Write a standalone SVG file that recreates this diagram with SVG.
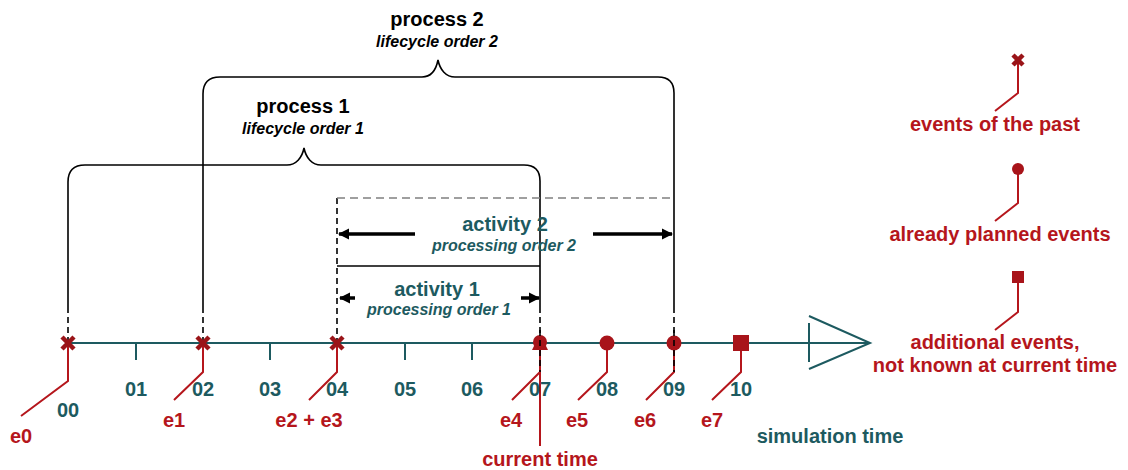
<svg xmlns="http://www.w3.org/2000/svg" width="1128" height="470" viewBox="0 0 1128 470">
  <defs>
    <style>
      .bk { fill: none; stroke: #000; stroke-width: 1.6; }
      .dash { fill: none; stroke: #000; stroke-width: 1.6; stroke-dasharray: 6 4; }
      .gray { fill: none; stroke: #808080; stroke-width: 1.6; stroke-dasharray: 8 5; }
      .axis { fill: none; stroke: #1d5a60; stroke-width: 2; }
      .call { fill: none; stroke: #b5161c; stroke-width: 2; }
      .thick { fill: none; stroke: #000; stroke-width: 3.5; }
      .xm { stroke: #9a1418; stroke-width: 4.5; stroke-linecap: butt; }
      .ev { fill: #a8141a; }
      text { font-family: "Liberation Sans", Arial, sans-serif; font-weight: bold; text-anchor: middle; }
      .title { font-size: 20px; fill: #000; }
      .sub { font-size: 16px; font-style: italic; fill: #000; }
      .act { font-size: 20px; fill: #1d5a60; }
      .actsub { font-size: 16px; font-style: italic; fill: #1d5a60; }
      .tick { font-size: 20px; fill: #1d5a60; }
      .lbl { font-size: 20px; fill: #b5161c; }
    </style>
    <marker id="ah" viewBox="0 0 10 10" refX="9" refY="5" markerWidth="3.2" markerHeight="3.2" orient="auto-start-reverse" markerUnits="strokeWidth">
      <path d="M0,0 L10,5 L0,10 z" fill="#000"/>
    </marker>
  </defs>

  <!-- braces, activity spans and the time axis -->
  <g id="connectors">
    <!-- process 1 brace -->
    <path class="bk" d="M68,307 V182 Q68,165 85,165 H287 C296,165 302,158 304,148 C306,158 312,165 321,165 H524 Q540,165 540,181 V307"/>
    <!-- process 2 brace -->
    <path class="bk" d="M203,307 V94 Q203,77 220,77 H422 C431,77 436,70 438,60 C440,70 446,77 455,77 H658 Q674,77 674,93 V307"/>
    <!-- dashed extensions down to the axis -->
    <path class="dash" d="M68,307 V372 M203,307 V372 M540,307 V372 M674,307 V372"/>
    <path class="dash" d="M337,198 V372"/>
    <!-- activity 2 upper bound -->
    <path class="gray" d="M337,198 H674"/>
    <!-- activity 1 span -->
    <path class="bk" d="M337,266 H540"/>

    <!-- activity arrows -->
    <path class="thick" d="M415,234 H339" marker-end="url(#ah)"/>
    <path class="thick" d="M593,234 H672" marker-end="url(#ah)"/>
    <path class="thick" d="M355,298 H340" marker-end="url(#ah)"/>
    <path class="thick" d="M521,298 H539" marker-end="url(#ah)"/>

    <!-- time axis -->
    <path class="axis" d="M68,343 H870 M809,316 L870,343 L809,369 M809,323 V362"/>
    <path class="axis" d="M136,343 V360 M270,343 V360 M405,343 V360 M472,343 V360"/>

    <!-- event callouts -->
    <path class="call" d="M68,343 V381 L21,416"/>
    <path class="call" d="M203,343 V372 L174,400"/>
    <path class="call" d="M337,343 V372 L309,400"/>
    <path class="call" d="M540,343 V446 M540,372 L512,400"/>
    <path class="call" d="M607,343 V372 L578,400"/>
    <path class="call" d="M674,343 V372 L646,400"/>
    <path class="call" d="M741,343 V372 L712,400"/>

    <!-- legend callouts -->
    <path class="call" d="M1018,60 V93 L995,111"/>
    <path class="call" d="M1018,169 V203 L995,221"/>
    <path class="call" d="M1018,277 V312 L995,330"/>
  </g>

  <g id="process1">
    <text class="title" x="303" y="113">process 1</text>
    <text class="sub" x="303" y="134">lifecycle order 1</text>
  </g>
  <g id="process2">
    <text class="title" x="437" y="26">process 2</text>
    <text class="sub" x="437" y="47">lifecycle order 2</text>
  </g>
  <g id="activity2">
    <text class="act" x="505" y="231">activity 2</text>
    <text class="actsub" x="504" y="251">processing order 2</text>
  </g>
  <g id="activity1">
    <text class="act" x="437" y="296">activity 1</text>
    <text class="actsub" x="439" y="315">processing order 1</text>
  </g>

  <!-- events on the axis -->
  <g id="e0">
    <path class="xm" d="M62,337 L74,349 M74,337 L62,349"/>
    <text class="lbl" x="21" y="443">e0</text>
  </g>
  <g id="e1">
    <path class="xm" d="M197,337 L209,349 M209,337 L197,349"/>
    <text class="lbl" x="174" y="427">e1</text>
  </g>
  <g id="e2e3">
    <path class="xm" d="M331,337 L343,349 M343,337 L331,349"/>
    <text class="lbl" x="309" y="427">e2 + e3</text>
  </g>
  <g id="e4">
    <circle class="ev" cx="540" cy="342" r="7"/>
    <path class="ev" d="M532,350 L548,350 L545,344 L535,344 z"/>
    <text class="lbl" x="511" y="427">e4</text>
    <text class="lbl" x="540" y="466">current time</text>
  </g>
  <g id="e5">
    <circle class="ev" cx="607" cy="343" r="7.5"/>
    <text class="lbl" x="577" y="427">e5</text>
  </g>
  <g id="e6">
    <circle class="ev" cx="674" cy="343" r="7.5"/>
    <text class="lbl" x="645" y="427">e6</text>
  </g>
  <g id="e7">
    <rect class="ev" x="733" y="335" width="16" height="16"/>
    <text class="lbl" x="712" y="427">e7</text>
  </g>
  <!-- black dashes run over the round markers -->
  <path class="dash" d="M540,330 V372 M674,330 V372"/>

  <!-- axis labels -->
  <g id="ticks">
    <text class="tick" x="68" y="417">00</text>
    <text class="tick" x="136" y="396">01</text>
    <text class="tick" x="203" y="396">02</text>
    <text class="tick" x="270" y="396">03</text>
    <text class="tick" x="337" y="396">04</text>
    <text class="tick" x="405" y="396">05</text>
    <text class="tick" x="472" y="396">06</text>
    <text class="tick" x="540" y="396">07</text>
    <text class="tick" x="607" y="396">08</text>
    <text class="tick" x="674" y="396">09</text>
    <text class="tick" x="741" y="396">10</text>
    <text class="tick" x="830" y="443">simulation time</text>
  </g>

  <!-- legend -->
  <g id="legend-past">
    <path class="xm" d="M1013,55 L1023,65 M1023,55 L1013,65"/>
    <text class="lbl" x="995" y="131">events of the past</text>
  </g>
  <g id="legend-planned">
    <circle class="ev" cx="1018" cy="169" r="6"/>
    <text class="lbl" x="1000" y="241">already planned events</text>
  </g>
  <g id="legend-additional">
    <rect class="ev" x="1012" y="271" width="12" height="12"/>
    <text class="lbl" x="995" y="349">additional events,</text>
    <text class="lbl" x="995" y="372">not known at current time</text>
  </g>
</svg>
